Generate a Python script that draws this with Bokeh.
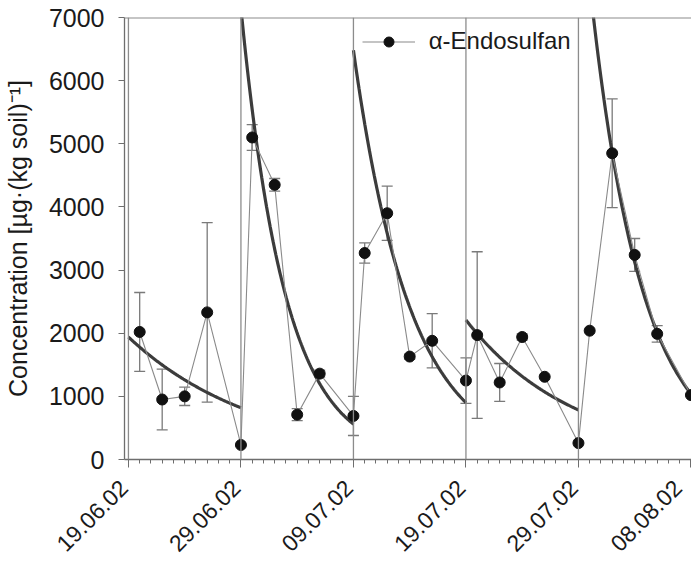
import math
import numpy as np
from bokeh.plotting import figure
from bokeh.models import (Range1d, FixedTicker, Span, Whisker, TeeHead, ColumnDataSource,
                          Legend, LegendItem)
from bokeh.embed import file_html
from bokeh.resources import INLINE

# ---------------- data (days after 19.06.02) ----------------
days = [1, 3, 5, 7, 10, 11, 13, 15, 17, 20, 21, 23, 25, 27, 30,
        31, 33, 35, 37, 40, 41, 43, 45, 47, 50]
conc = [2020, 950, 1000, 2330, 230, 5100, 4350, 710, 1360, 690, 3270, 3900, 1630, 1880, 1250,
        1970, 1220, 1940, 1310, 260, 2040, 4850, 3240, 1990, 1020]
err = [625, 480, 145, 1420, 0, 205, 100, 95, 55, 310, 160, 430, 40, 430, 360,
       1320, 300, 50, 0, 0, 0, 860, 260, 130, 0]

# fitted first-order decay after each application: start day, end day, start value, end value
fit_start_day = [0, 10, 20, 30, 40]
fit_end_day = [10, 20, 30, 40, 50]
fit_start_val = [1940, 7150, 6480, 2210, 9400]
fit_end_val = [820, 560, 900, 785, 1040]

application_days = [0, 10, 20, 30, 40]

tick_days = [0, 10, 20, 30, 40, 50]
tick_labels = ["19.06.02", "29.06.02", "09.07.02", "19.07.02", "29.07.02", "08.08.02"]
y_ticks = [0, 1000, 2000, 3000, 4000, 5000, 6000, 7000]

FONT = "Liberation Sans"
TXT = "#1a1a1a"

p = figure(width=691, height=569, output_backend="svg", toolbar_location=None,
           x_range=Range1d(-0.35, 50.05), y_range=Range1d(0, 7000),
           min_border_left=124, min_border_right=0, min_border_top=17, min_border_bottom=110)
p.outline_line_color = None
p.xgrid.visible = False
p.ygrid.visible = False
p.background_fill_color = "white"
p.border_fill_color = "white"

# application markers
for d in application_days:
    p.add_layout(Span(location=d, dimension="height", line_color="#8c8c8c", line_width=1.3))
p.add_layout(Span(location=7000, dimension="width", line_color="#8c8c8c", line_width=2))

# error bars
lower = [c - e for c, e in zip(conc, err)]
upper = [c + e for c, e in zip(conc, err)]
src = ColumnDataSource(dict(x=days, y=conc))
eb_src = ColumnDataSource(dict(x=[d for d, e in zip(days, err) if e > 0],
                               lo=[l for l, e in zip(lower, err) if e > 0],
                               hi=[h for h, e in zip(upper, err) if e > 0]))
wh = Whisker(base="x", lower="lo", upper="hi", source=eb_src, dimension="height",
             line_color="#7a7a7a", line_width=1.3,
             upper_head=TeeHead(size=11, line_color="#7a7a7a", line_width=1.3),
             lower_head=TeeHead(size=11, line_color="#7a7a7a", line_width=1.3))
p.add_layout(wh)

# fitted curves
for d0, d1, c0, c1 in zip(fit_start_day, fit_end_day, fit_start_val, fit_end_val):
    t = np.linspace(d0, d1, 120)
    k = math.log(c0 / c1) / (d1 - d0)
    p.line(t, c0 * np.exp(-k * (t - d0)), line_color="#3c3c3c", line_width=3.2)

line_r = p.line("x", "y", source=src, line_color="#8a8a8a", line_width=1.1)
pts_r = p.scatter("x", "y", source=src, size=11, fill_color="#111111", line_color="#111111")

legend = Legend(items=[LegendItem(label="α-Endosulfan", renderers=[line_r, pts_r])],
                location=(237.7, 404), orientation="vertical",
                glyph_width=53, glyph_height=25, label_height=25, label_standoff=14,
                padding=0, margin=0, spacing=0,
                border_line_color=None, background_fill_alpha=0,
                label_text_font=FONT, label_text_font_size="24px", label_text_color=TXT)
p.add_layout(legend)

# axes
xa = p.xaxis[0]
xa.ticker = FixedTicker(ticks=tick_days, minor_ticks=list(range(0, 51)))
xa.major_label_overrides = {d: lab + "\u00a0" for d, lab in zip(tick_days, tick_labels)}
xa.major_label_orientation = math.pi / 4
xa.major_label_text_font = FONT
xa.major_label_text_font_size = "23px"
xa.major_label_text_color = TXT
xa.axis_line_color = "#6e6e6e"
xa.axis_line_width = 1.3
xa.major_tick_line_color = "#6e6e6e"
xa.minor_tick_line_color = "#6e6e6e"
xa.major_tick_in = 0
xa.major_tick_out = 8
xa.minor_tick_in = 0
xa.minor_tick_out = 4
xa.major_label_standoff = 12

ya = p.yaxis[0]
ya.ticker = FixedTicker(ticks=y_ticks, minor_ticks=[])
ya.major_label_text_font = FONT
ya.major_label_text_font_size = "25px"
ya.major_label_text_color = TXT
ya.axis_line_color = "#6e6e6e"
ya.axis_line_width = 1.3
ya.major_tick_line_color = "#6e6e6e"
ya.major_tick_in = 0
ya.major_tick_out = 6
ya.minor_tick_line_color = None
ya.major_label_standoff = 14
ya.axis_label = "Concentration [µg·(kg soil)⁻¹]"
ya.axis_label_text_font = FONT
ya.axis_label_text_font_size = "25px"
ya.axis_label_text_font_style = "normal"
ya.axis_label_text_color = TXT
ya.axis_label_standoff = 14

open("out.html", "w").write(file_html(p, INLINE))
